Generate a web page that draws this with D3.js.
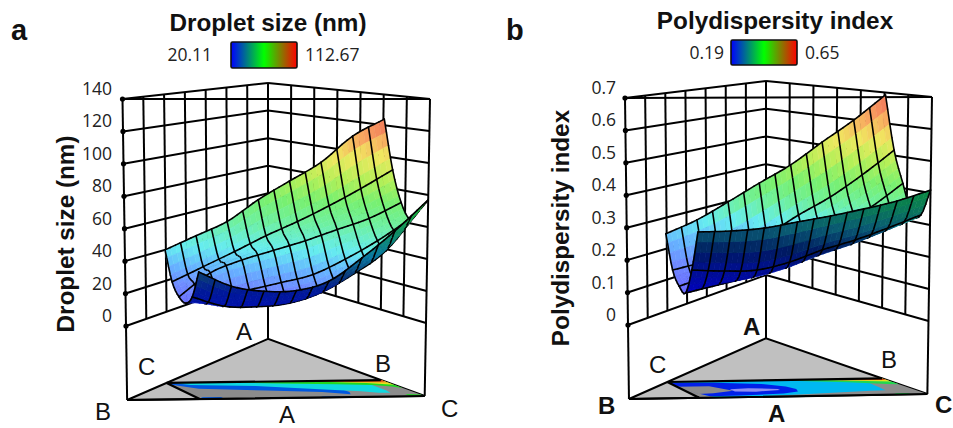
<!DOCTYPE html>
<html>
<head>
<meta charset="utf-8">
<script src="https://cdnjs.cloudflare.com/ajax/libs/d3/7.8.5/d3.min.js"></script>
<style>
body { margin: 0; background: #fff; }
svg { display: block; }
.tick { font-family: "Open Sans", sans-serif; font-size: 17.5px; fill: #222; }
.title { font-family: "Liberation Sans", sans-serif; font-weight: bold; font-size: 24.3px; fill: #111; }
.corner { font-family: "Liberation Sans", sans-serif; font-size: 24px; fill: #111; }
.corner.bold { font-weight: bold; }
</style>
</head>
<body>
<svg id="chart" width="953" height="428"></svg>
<script>
// surface heights, one row per mesh line going from the back edge to the front edge
var uLevels = [0, 1/7, 2/7, 3/7, 4/7, 5/7, 6/7, 1]
var vLevels = [0, 0.2, 0.4, 0.6, 0.8, 1]

var aTicks = [0, 20, 40, 60, 80, 100, 120, 140]
var aRows = [
	[40, 49, 58, 72, 84, 96, 113, 124],
	[21, 30.5, 40, 50, 59, 69, 80, 92],
	[13, 28, 36, 42, 48, 55, 62, 72],
	[10.5, 14, 18.6, 23, 28, 37.5, 49, 62.6],
	[16, 10, 9.5, 11.5, 18, 29.5, 44, 69],
	[33, 24, 20.7, 21, 26.7, 41, 57.7, 77]
]
var aTopZ = [8, 20, 30, 42, 58, 72, 85, 100, 112, 124]
var aUnderZ = [8, 20, 30, 42, 58, 77]

var bTicks = [0, 0.1, 0.2, 0.3, 0.4, 0.5, 0.6, 0.7]
var bRows = [
	[0.248, 0.292, 0.349, 0.409, 0.467, 0.540, 0.611, 0.692],
	[0.139, 0.164, 0.194, 0.248, 0.311, 0.368, 0.438, 0.517],
	[0.095, 0.129, 0.169, 0.206, 0.237, 0.284, 0.340, 0.415],
	[0.081, 0.105, 0.129, 0.159, 0.196, 0.233, 0.276, 0.323],
	[0.160, 0.156, 0.158, 0.182, 0.219, 0.249, 0.286, 0.326],
	[0.285, 0.287, 0.295, 0.313, 0.331, 0.352, 0.376, 0.409]
]
var bTopZ = [0.08, 0.16, 0.22, 0.29, 0.35, 0.41, 0.48, 0.55, 0.62, 0.69]
var bUnderZ = [0.08, 0.16, 0.22, 0.29, 0.35, 0.41]

var topColors = ['#6a6aff', '#6f8cff', '#66b4ff', '#66ecf0', '#6ef0a0', '#78f070', '#b4f058', '#f0e860', '#f8a860', '#f06a5a']
var aUnderColors = ['#0010b0', '#001898', '#0a3a78', '#0a78a0', '#109060', '#20c030']
var bUnderColors = ['#0000c0', '#000f90', '#001a60', '#0a5a72', '#0a7858', '#0a8a40']

// contour bands on the floor, as [u, v] outlines over the constrained region
var aBands = [
	['#0058e0', [[0,0],[.70,0],[.72,.55],[.72,.7],[.70,.84],[.6,.68],[.37,.54],[.09,.38],[0,.1]]],
	['#10d8e0', [[.02,0],[.9,0],[.9,.62],[.89,.78],[.84,.76],[.78,.66],[.66,.54],[.37,.26],[.09,.14]]],
	['#20d820', [[.2,0],[1,0],[1,.5],[.97,.4],[.9,.3],[.75,.22],[.5,.12],[.3,.04]]],
	['#e8e020', [[.45,0],[1,0],[1,.3],[.9,.16],[.75,.08],[.6,.03]]],
	['#f08020', [[.58,0],[1,0],[1,.16],[.8,.09]]],
	['#d03010', [[.8,0],[1,0],[1,.08],[.85,.07]]],
	['#20d820', [[.94,.86],[1,.9],[1,1],[.94,1]]],
	['#0058e0', [[.02,.9],[.11,.9],[.11,1],[.02,1]]],
	['#0058e0', [[.55,.94],[.63,.94],[.63,1],[.55,1]]]
]
var bBands = [
	['#00b8f0', [[0,0],[.9,0],[.88,.4],[.875,.56],[.87,.72],[.8,.74],[.5,.88],[.3,.95],[.08,1],[.05,.85],[.04,.3]]],
	['#0020e8', [[0,.06],[.2,.1],[.4,.22],[.48,.4],[.5,.56],[.48,.72],[.4,.82],[.2,.9],[.06,.92],[.03,.7]]],
	['#8c8c8c', [[0,.3],[.147,.3],[.21,.6],[.1,.74],[.03,.76]]],
	['#8f8ff0', [[.21,.5],[.3,.46],[.42,.54],[.42,.6],[.3,.68],[.21,.65]]],
	['#20d850', [[.35,0],[1,0],[1,.38],[.95,.35],[.8,.2],[.6,.08]]],
	['#e8e020', [[.65,0],[1,0],[1,.2],[.85,.12]]],
	['#e05010', [[.75,0],[1,0],[1,.1],[.8,.07]]],
	['#20d850', [[.87,.92],[.93,.92],[.93,1],[.87,1]]]
]

var svg = d3.select('#chart')
var defs = svg.append('defs')
var U_STEPS = 42, V_STEPS = 20

function catmull(vals, t) {
	var n = vals.length - 1
	var s = Math.min(t * n, n - 1e-9)
	var i = Math.floor(s), f = s - i
	var p0 = i > 0 ? vals[i-1] : 2*vals[0] - vals[1]
	var p1 = vals[i], p2 = vals[i+1]
	var p3 = i + 2 <= n ? vals[i+2] : 2*vals[n] - vals[n-1]
	return 0.5 * (2*p1 + (p2-p0)*f + (2*p0-5*p1+4*p2-p3)*f*f + (3*p1-p0-3*p2+p3)*f*f*f)
}

function drawPanel(p) {
	var g = svg.append('g')
	var zTop = d3.max(p.ticks)
	var zDomain = [0, zTop]
	// each corner of the box has its own scale, because the walls shrink towards the back
	var corners = {
		A: {x: d3.scaleLinear(zDomain, [p.A[0], p.A[0]]), y: d3.scaleLinear(zDomain, [p.A[1], p.A[2]])},
		B: {x: d3.scaleLinear(zDomain, [p.B[0], p.B[3]]), y: d3.scaleLinear(zDomain, [p.B[1], p.B[2]])},
		C: {x: d3.scaleLinear(zDomain, [p.C[0], p.C[3]]), y: d3.scaleLinear(zDomain, [p.C[1], p.C[2]])}
	}
	var floorZ = -0.326 * zTop

	function project(w, z) {
		return [
			w[0]*corners.A.x(z) + w[1]*corners.B.x(z) + w[2]*corners.C.x(z),
			w[0]*corners.A.y(z) + w[1]*corners.B.y(z) + w[2]*corners.C.y(z)
		]
	}
	// u runs along the region, v from the back edge to the front edge
	function weights(u, v) {
		var back = [p.backA, (1-p.backA)*(1-u), (1-p.backA)*u]
		var front = [0, p.frontB*(1-u), (1-p.frontB)*(1-u) + u]
		return back.map(function(b, i) { return b + (front[i]-b)*v })
	}
	function height(u, v) {
		var across = p.rows.map(function(r) { return catmull(r, u) })
		return catmull(across, v)
	}
	function surf(u, v) { return project(weights(u, v), height(u, v)) }
	function seg(a, b) { return 'M' + a + 'L' + b }

	// walls
	var walls = []
	p.ticks.forEach(function(t) {
		walls.push(seg(project([0,1,0], t), project([1,0,0], t)))
		walls.push(seg(project([0,0,1], t), project([1,0,0], t)))
	})
	d3.range(1, 7).forEach(function(k) {
		var t = k / 7
		walls.push(seg(project([t,1-t,0], 0), project([t,1-t,0], zTop)))
		walls.push(seg(project([t,0,1-t], 0), project([t,0,1-t], zTop)))
	})
	walls.push(seg(project([0,1,0], zTop), project([0,0,1], zTop)))
	walls.push(seg(project([0,1,0], floorZ), project([0,1,0], zTop)))
	walls.push(seg(project([0,0,1], floorZ), project([0,0,1], zTop)))
	walls.push(seg(project([1,0,0], floorZ), project([1,0,0], zTop)))
	g.append('g').selectAll('path').data(walls).join('path')
		.attr('d', function(d) { return d })
		.attr('fill', 'none').attr('stroke', '#000').attr('stroke-width', 2)

	g.append('g').selectAll('circle').data(p.ticks).join('circle')
		.attr('cx', function(d) { return project([0,1,0], d)[0] })
		.attr('cy', function(d) { return project([0,1,0], d)[1] })
		.attr('r', 2.6).attr('fill', '#000')

	g.append('g').selectAll('text').data(p.ticks).join('text')
		.attr('class', 'tick')
		.attr('x', p.tickX)
		.attr('y', function(d) { return project([0,1,0], d)[1] - 4 })
		.attr('text-anchor', 'end')
		.text(function(d) { return d })

	// floor
	var line = d3.line()
	g.append('path')
		.attr('d', line([[1,0,0],[0,1,0],[0,0,1]].map(function(w) { return project(w, floorZ) })) + 'Z')
		.attr('fill', '#c0c0c0').attr('stroke', '#000').attr('stroke-width', 2)
	function floorPt(d) { return project(weights(d[0], d[1]), floorZ) }
	g.append('path')
		.attr('d', line([[0,0],[1,0],[1,1],[0,1]].map(floorPt)) + 'Z')
		.attr('fill', '#8c8c8c')
	g.append('g').selectAll('path').data(p.bands).join('path')
		.attr('d', function(d) { return line(d[1].map(floorPt)) + 'Z' })
		.attr('fill', function(d) { return d[0] })
	g.append('path')
		.attr('d', seg(floorPt([1,0]), floorPt([0,0])) + seg(floorPt([0,0]), floorPt([0,1])) + seg(project([0,1,0], floorZ), project([0,0,1], floorZ)))
		.attr('fill', 'none').attr('stroke', '#000').attr('stroke-width', 2.2)

	// surface, painted from the back row to the front row
	// mesh lines along a row wait one row, or the next fills would cover half their width
	var topColor = d3.scaleLinear().domain(p.topZ).range(topColors).clamp(true)
	var underColor = d3.scaleLinear().domain(p.underZ).range(p.underColors).clamp(true)
	var cells = [], waiting = []
	d3.range(V_STEPS).forEach(function(j) {
		var v0 = j / V_STEPS, v1 = (j+1) / V_STEPS
		var next = []
		d3.range(U_STEPS).forEach(function(i) {
			var u0 = i / U_STEPS, u1 = (i+1) / U_STEPS
			var q = [surf(u0,v0), surf(u1,v0), surf(u1,v1), surf(u0,v1)]
			var zMid = height((u0+u1)/2, (v0+v1)/2)
			var facing = d3.polygonArea(q) < 0
			var fill = facing ? topColor(zMid) : underColor(zMid)
			cells.push({d: line(q) + 'Z', fill: fill, stroke: fill, w: 0.6})
			if (j == 0) next.push(seg(q[0], q[1]))
			if ((j+1) % 4 == 0) next.push(seg(q[3], q[2]))
			var lines = ''
			if (i % 3 == 0) lines += seg(q[0], q[3])
			if (i == U_STEPS - 1) lines += seg(q[1], q[2])
			if (lines) cells.push({d: lines, fill: 'none', stroke: '#000', w: 1.6})
		})
		waiting.forEach(function(d) { cells.push({d: d, fill: 'none', stroke: '#000', w: 1.6}) })
		waiting = next
	})
	waiting.forEach(function(d) { cells.push({d: d, fill: 'none', stroke: '#000', w: 1.6}) })
	g.append('g').selectAll('path').data(cells).join('path')
		.attr('d', function(d) { return d.d })
		.attr('fill', function(d) { return d.fill })
		.attr('stroke', function(d) { return d.stroke })
		.attr('stroke-width', function(d) { return d.w })
		.attr('stroke-linecap', 'round')

	// legend
	var grad = defs.append('linearGradient').attr('id', p.id + 'grad')
	grad.selectAll('stop').data(['#0000ff', '#00ff00', '#ff0000']).join('stop')
		.attr('offset', function(d, i) { return i * 50 + '%' })
		.attr('stop-color', function(d) { return d })
	g.append('rect')
		.attr('x', p.legend[0]).attr('y', p.legend[1]).attr('width', p.legend[2]).attr('height', p.legend[3])
		.attr('rx', 1.5)
		.attr('fill', 'url(#' + p.id + 'grad)').attr('stroke', '#111').attr('stroke-width', 1.6)
	g.append('text').attr('class', 'tick').attr('x', p.legend[0] + p.legendGap[0]).attr('y', p.legend[1] + 19)
		.attr('text-anchor', 'end').text(p.legendMin)
	g.append('text').attr('class', 'tick').attr('x', p.legend[0] + p.legend[2] + p.legendGap[1]).attr('y', p.legend[1] + 19)
		.text(p.legendMax)

	// labels
	g.append('text').attr('class', 'title').attr('x', p.titleX).attr('y', p.titleY)
		.attr('text-anchor', 'middle').text(p.title)
	g.append('text').attr('class', 'title')
		.attr('transform', 'translate(' + p.yLabel[0] + ',' + p.yLabel[1] + ') rotate(-90)')
		.attr('text-anchor', 'middle').text(p.title)
	g.append('text').attr('class', 'title').style('font-size', '29px')
		.attr('x', p.letter[0]).attr('y', p.letter[1]).text(p.id)
	g.append('g').selectAll('text').data(p.labels).join('text')
		.attr('class', function(d) { return d[3] ? 'corner bold' : 'corner' })
		.attr('x', function(d) { return d[1] }).attr('y', function(d) { return d[2] })
		.text(function(d) { return d[0] })
}

drawPanel({
	id: 'a', title: 'Droplet size (nm)', ticks: aTicks, rows: aRows, bands: aBands,
	topZ: aTopZ, underZ: aUnderZ, underColors: aUnderColors,
	A: [268, 276, 83], B: [126, 326, 99, 122.5], C: [426, 323, 99, 430],
	backA: 0.28, frontB: 0.756,
	tickX: 112, legend: [231, 42, 66, 26], legendGap: [-19, 8], legendMin: '20.11', legendMax: '112.67',
	titleX: 268, titleY: 31, yLabel: [74, 234], letter: [11, 40],
	labels: [['A',236,340],['C',138,375],['B',375,372],['B',95,420],['A',279,423],['C',441,417]]
})
drawPanel({
	id: 'b', title: 'Polydispersity index', ticks: bTicks, rows: bRows, bands: bBands,
	topZ: bTopZ, underZ: bUnderZ, underColors: bUnderColors,
	A: [766, 275, 81], B: [628, 325, 98, 625], C: [928.5, 321, 97, 932],
	backA: 0.28, frontB: 0.765,
	tickX: 616, legend: [731, 40, 66, 25], legendGap: [-7, 8], legendMin: '0.19', legendMax: '0.65',
	titleX: 775, titleY: 29, yLabel: [569, 228], letter: [506, 40],
	labels: [['A',743,335,1],['C',649,373],['B',881,368],['B',598,414,1],['A',768,422,1],['C',935,413,1]]
})
</script>
</body>
</html>
